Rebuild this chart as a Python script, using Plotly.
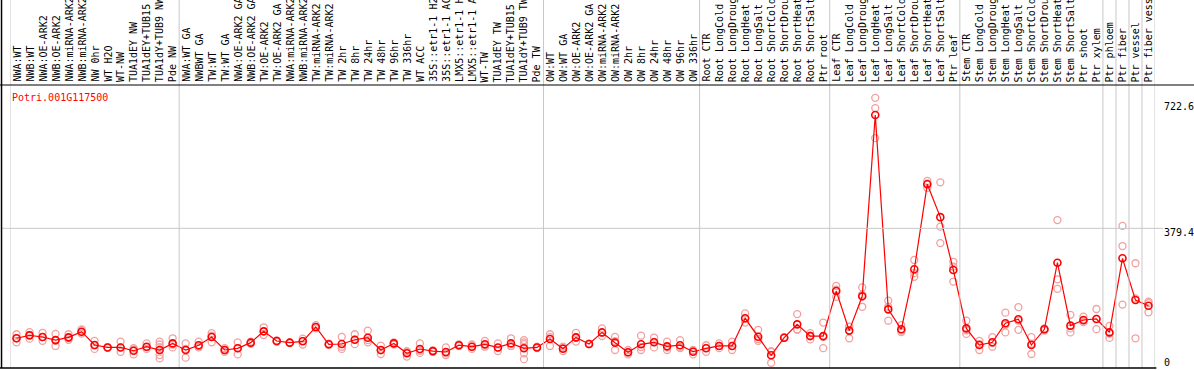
import plotly.graph_objects as go

categories = [
    "NWA:WT", "NWB:WT", "NWA:OE-ARK2", "NWB:OE-ARK2", "NWA:miRNA-ARK2", "NWB:miRNA-ARK2",
    "NW 0hr", "WT H2O", "WT-NW", "TUA1dEY NW", "TUA1dEY+TUB15 NW", "TUA1dY+TUB9 NW", "Pde NW",
    "NWA:WT GA", "NWBWT GA", "TW:WT", "TW:WT GA", "NWA:OE-ARK2 GA", "NWB:OE-ARK2 GA",
    "TW:OE-ARK2", "TW:OE-ARK2 GA", "NWA:miRNA-ARK2", "NWB:miRNA-ARK2", "TW:miRNA-ARK2",
    "TW:miRNA-ARK2", "TW 2hr", "TW 8hr", "TW 24hr", "TW 48hr", "TW 96hr", "TW 336hr",
    "WT ACC", "35S::etr1-1 H2O", "35S::etr1-1 ACC", "LMX5::etr1-1 H2O", "LMX5::etr1-1 ACC",
    "WT-TW", "TUA1dEY TW", "TUA1dEY+TUB15 TW", "TUA1dY+TUB9 TW", "Pde TW",
    "OW:WT", "OW:WT GA", "OW:OE-ARK2", "OW:OE-ARK2 GA", "OW:miRNA-ARK2", "OW:miRNA-ARK2",
    "OW 2hr", "OW 8hr", "OW 24hr", "OW 48hr", "OW 96hr", "OW 336hr",
    "Root CTR", "Root LongCold", "Root LongDrought", "Root LongHeat", "Root LongSalt",
    "Root ShortCold", "Root ShortDrought", "Root ShortHeat", "Root ShortSalt", "Ptr root",
    "Leaf CTR", "Leaf LongCold", "Leaf LongDrought", "Leaf LongHeat", "Leaf LongSalt",
    "Leaf ShortCold", "Leaf ShortDrought", "Leaf ShortHeat", "Leaf ShortSalt", "Ptr leaf",
    "Stem CTR", "Stem LongCold", "Stem LongDrought", "Stem LongHeat", "Stem LongSalt",
    "Stem ShortCold", "Stem ShortDrought", "Stem ShortHeat", "Stem ShortSalt", "Ptr shoot",
    "Ptr xylem", "Ptr phloem", "Ptr fiber", "Ptr vessel", "Ptr fiber vessel",
]

group_sizes = [13, 28, 12, 10, 10, 11, 1, 1, 1, 1]

means = [
    79, 87, 82.5, 74, 81.5, 97, 60.6, 54, 54, 45, 56, 47, 65,
    47, 60, 82.5, 47, 51.6, 67, 98, 71.6, 67, 70.7, 110, 62.5, 63.4, 75, 80.6, 47, 65, 38,
    49.7, 44, 41.5, 60, 56, 62.5, 54, 65, 51.6, 54,
    77, 50.5, 81.5, 63.4, 95, 67, 40.7, 62.5, 68, 57, 60, 42.3,
    51.6, 58, 58, 133.6, 83, 32.5, 80.6, 117, 85, 85,
    208, 100, 193.6, 689, 158, 103.5, 267.5, 500, 410, 265.6,
    106, 60.6, 68, 120, 131, 60.6, 103.5, 285.5, 113.5, 129, 131.7,
    95, 297.5, 183.6, 168,
]

replicates = [
    [90, 79, 68], [96, 88, 78], [94, 82, 72], [91, 73, 58], [90, 80, 75], [103, 97, 92],
    [72, 60, 50], [55, 54, 53], [70, 54, 42], [52, 48, 35], [65, 55, 50], [70, 62, 55, 33, 24],
    [79, 62, 54],
    [65, 50, 26], [70, 57, 54], [93, 86, 68], [52, 47, 42], [68, 52, 35], [70, 67, 64],
    [109, 98, 88], [73, 71, 70], [68, 67, 66], [78, 72, 62], [115, 110, 106], [64, 62, 61],
    [83, 56, 50], [90, 75, 63], [100, 74, 68], [59, 46, 36], [68, 65, 62], [44, 41, 29],
    [65, 45, 39], [46, 44, 42], [54, 38, 33], [62, 60, 58], [62, 56, 50], [72, 60, 56],
    [65, 53, 44], [79, 58, 58], [74, 68, 63, 38, 22], [56, 54, 52],
    [90, 82, 58], [56, 52, 44], [94, 80, 70], [64, 63, 63], [106, 94, 85], [83, 71, 47],
    [47, 40, 35], [86, 55, 47], [81, 69, 54], [70, 54, 47], [74, 54, 52], [47, 45, 35],
    [60, 53, 42], [65, 58, 52], [70, 58, 47], [147, 133, 122], [102, 77, 72], [44, 42, 12],
    [82, 80, 80], [145, 103, 103], [93, 86, 76], [122, 82, 52],
    [222, 212, 192], [111, 110, 79], [218, 198, 165], [736, 708, 626], [182, 165, 127],
    [115, 100, 96], [293, 257, 247], [509, 502, 490], [505, 384, 339], [288, 275, 234],
    [127, 101, 91], [72, 63, 47], [82, 66, 56], [149, 116, 95], [164, 127, 102], [82, 64, 36],
    [106, 104, 100], [402, 240, 214], [143, 106, 95], [138, 127, 123], [159, 132, 104],
    [113, 92, 80], [386, 331, 171], [284, 188, 79], [179, 175, 150],
]

gene_id = "Potri.001G117500"
ytick_vals = [0, 379.4, 722.6]
ytick_text = ["0", "379.4", "722.6"]

MONO = "DejaVu Sans Mono"
x = list(range(1, len(categories) + 1))
rep_x = [xi for xi, r in zip(x, replicates) for _ in r]
rep_y = [v for r in replicates for v in r]

fig = go.Figure()
fig.add_trace(go.Scatter(
    x=rep_x, y=rep_y, mode="markers",
    marker=dict(symbol="circle-open", size=7, color="#f2a0a0", line=dict(width=1.3)),
    hoverinfo="skip", showlegend=False,
))
fig.add_trace(go.Scatter(
    x=x, y=means, mode="lines+markers",
    line=dict(color="#ff0000", width=1.2),
    marker=dict(symbol="circle-open", size=7, color="#ff0000", line=dict(width=1.6)),
    showlegend=False,
))

shapes = []
b = 0.5
bounds = [b]
for g in group_sizes:
    b += g
    bounds.append(b)
for bx in bounds:
    shapes.append(dict(type="line", xref="x", yref="paper", x0=bx, x1=bx, y0=0, y1=1.35,
                       line=dict(color="#c8c8c8", width=1)))
shapes.append(dict(type="line", xref="paper", yref="y", x0=-0.007, x1=1.007,
                   y0=ytick_vals[1], y1=ytick_vals[1], line=dict(color="#c8c8c8", width=1)))
shapes.append(dict(type="line", xref="paper", yref="paper", x0=-0.01, x1=1.05, y0=1, y1=1,
                   line=dict(color="black", width=1)))
shapes.append(dict(type="line", xref="paper", yref="paper", x0=-0.0074, x1=-0.0074, y0=0, y1=1.35,
                   line=dict(color="black", width=1.5)))
shapes.append(dict(type="line", xref="paper", yref="paper", x0=-0.01, x1=1.0012, y0=0, y1=0,
                   line=dict(color="black", width=1.5)))

annotations = []
for xi, lab in zip(x, categories):
    annotations.append(dict(x=xi, xref="x", y=1, yref="paper", yanchor="bottom", xanchor="center",
                            yshift=1, text=lab, textangle=-90, showarrow=False,
                            font=dict(family=MONO, size=10, color="black")))
annotations.append(dict(x=0, xref="paper", y=0.957, yref="paper", xanchor="left", yanchor="middle",
                        text=gene_id, showarrow=False, font=dict(family=MONO, size=10, color="#ff0000")))
for v, t in zip(ytick_vals, ytick_text):
    shift = 5 if v == 0 else -4
    annotations.append(dict(x=1.0065, xref="paper", y=v, yref="y", xanchor="left", yanchor="middle",
                            yshift=shift, text=t, showarrow=False,
                            font=dict(family=MONO, size=10, color="black")))

fig.update_layout(
    width=1194, height=370,
    margin=dict(l=10, r=39, t=85, b=2),
    paper_bgcolor="white", plot_bgcolor="white",
    xaxis=dict(range=[0.5, 88.5], showgrid=False, zeroline=False, showticklabels=False,
               showline=False, ticks=""),
    yaxis=dict(range=[-2.2, 771], showgrid=False, zeroline=False, showticklabels=False,
               showline=False, ticks=""),
    shapes=shapes, annotations=annotations,
)

fig.write_html("out.html", config={"displayModeBar": False},
               post_script="document.body.style.margin='0';")
